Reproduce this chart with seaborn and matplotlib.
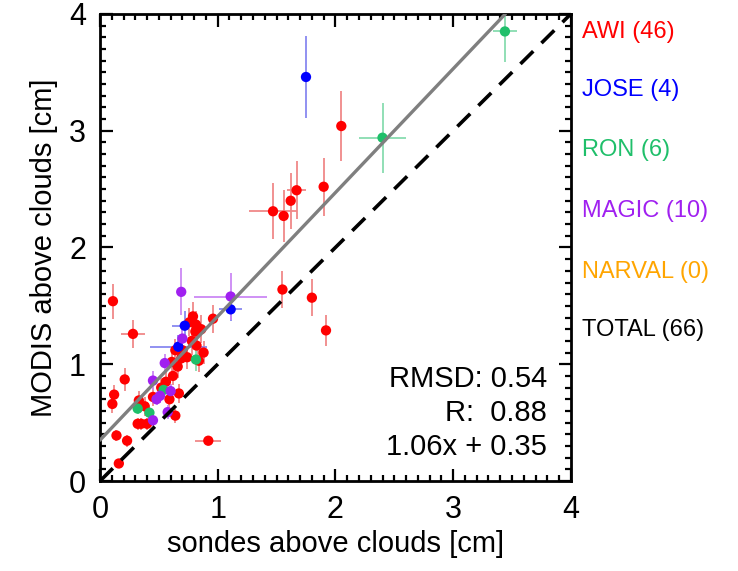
import numpy as np
import pandas as pd
import matplotlib
matplotlib.use('Agg')
import matplotlib.pyplot as plt
from matplotlib.ticker import MultipleLocator
import seaborn as sns

# ── Data (cm) ─────────────────────────────────────────────────────────────────
awi_x = [2.05, 1.47, 1.56, 1.62, 1.67, 1.90, 1.55, 1.80, 1.92, 0.96,
         0.76, 0.81, 0.815, 0.82, 0.84, 0.64, 0.69, 0.74, 0.61, 0.11,
         0.28, 0.21, 0.12, 0.56, 0.67, 0.45, 0.59, 0.105, 0.33, 0.38,
         0.64, 0.32, 0.35, 0.40, 0.14, 0.23, 0.16, 0.92, 0.79, 0.86,
         0.66, 0.78, 0.70, 0.52, 0.88, 0.62]
awi_y = [3.04, 2.31, 2.27, 2.40, 2.49, 2.52, 1.64, 1.57, 1.29, 1.39,
         1.36, 1.28, 1.34, 1.16, 1.03, 1.12, 1.05, 1.06, 1.02, 1.54,
         1.26, 0.87, 0.74, 0.85, 0.75, 0.72, 0.70, 0.66, 0.69, 0.64,
         0.56, 0.49, 0.49, 0.49, 0.39, 0.345, 0.15, 0.345, 1.41, 1.30,
         0.98, 1.20, 1.12, 0.80, 1.10, 0.90]
awi_xerr = [0.03, 0.20, 0.03, 0.03, 0.08, 0.03, 0.03, 0.03, 0.03, 0.03,
            0.03, 0.03, 0.03, 0.03, 0.03, 0.03, 0.03, 0.03, 0.03, 0.03,
            0.10, 0.03, 0.03, 0.03, 0.03, 0.03, 0.03, 0.03, 0.03, 0.03,
            0.03, 0.03, 0.03, 0.03, 0.03, 0.03, 0.03, 0.11, 0.03, 0.03,
            0.03, 0.03, 0.03, 0.03, 0.03, 0.03]
awi_yerr = [0.30, 0.24, 0.22, 0.24, 0.25, 0.25, 0.16, 0.16, 0.13, 0.12,
            0.12, 0.12, 0.12, 0.12, 0.10, 0.10, 0.10, 0.10, 0.10, 0.15,
            0.12, 0.10, 0.08, 0.08, 0.08, 0.08, 0.08, 0.08, 0.08, 0.08,
            0.06, 0.05, 0.05, 0.05, 0.05, 0.05, 0.04, 0.03, 0.12, 0.12,
            0.10, 0.12, 0.10, 0.08, 0.10, 0.08]

jose_x = [1.75, 1.11, 0.72, 0.665]
jose_y = [3.46, 1.47, 1.33, 1.15]
jose_xerr = [0.03, 0.10, 0.11, 0.24]
jose_yerr = [0.35, 0.10, 0.13, 0.10]

ron_x = [3.44, 2.40, 0.815, 0.54, 0.32, 0.42]
ron_y = [3.85, 2.94, 1.04, 0.78, 0.62, 0.585]
ron_xerr = [0.10, 0.20, 0.03, 0.03, 0.03, 0.03]
ron_yerr = [0.26, 0.30, 0.10, 0.06, 0.05, 0.05]

magic_x = [0.69, 1.11, 0.70, 0.55, 0.45, 0.60, 0.51, 0.575, 0.45, 0.48]
magic_y = [1.62, 1.58, 1.22, 1.01, 0.86, 0.77, 0.73, 0.59, 0.52, 0.70]
magic_xerr = [0.03, 0.31, 0.03, 0.03, 0.03, 0.03, 0.03, 0.03, 0.03, 0.03]
magic_yerr = [0.20, 0.20, 0.10, 0.08, 0.08, 0.06, 0.06, 0.06, 0.05, 0.05]

campaigns = ["AWI", "JOSE", "RON", "MAGIC", "NARVAL"]
counts = [46, 4, 6, 10, 0]
colors = {"AWI": "#ff0000", "JOSE": "#0000ff", "RON": "#1fbf6a",
          "MAGIC": "#a020f0", "NARVAL": "#ffa500"}
err_colors = {"AWI": "#f08888", "JOSE": "#8888f0", "RON": "#88dcb0",
              "MAGIC": "#cc88f4", "NARVAL": "#ffd088"}

slope, intercept = 1.06, 0.35
stats_lines = ["RMSD: 0.54", "R:  0.88", "1.06x + 0.35"]

series = {
    "AWI": (awi_x, awi_y, awi_xerr, awi_yerr),
    "JOSE": (jose_x, jose_y, jose_xerr, jose_yerr),
    "RON": (ron_x, ron_y, ron_xerr, ron_yerr),
    "MAGIC": (magic_x, magic_y, magic_xerr, magic_yerr),
}
df = pd.concat([
    pd.DataFrame({"sonde": v[0], "modis": v[1], "xerr": v[2], "yerr": v[3], "campaign": k})
    for k, v in series.items()
], ignore_index=True)

# ── Style ─────────────────────────────────────────────────────────────────────
sns.set_style("ticks")
plt.rcParams['font.family'] = ['Liberation Sans', 'DejaVu Sans']
plt.rcParams['text.color'] = 'black'
plt.rcParams['axes.labelcolor'] = 'black'
plt.rcParams['xtick.color'] = 'black'
plt.rcParams['ytick.color'] = 'black'

fig = plt.figure(figsize=(7.38, 5.71), dpi=100)
ax = fig.add_axes([0.1355, 0.1576, 0.638, 0.818])

# error bars first, then the markers on top
for name, grp in df.groupby("campaign", sort=False):
    ax.errorbar(grp["sonde"], grp["modis"], xerr=grp["xerr"], yerr=grp["yerr"],
                fmt="none", ecolor=err_colors[name], elinewidth=1.3, capsize=0, zorder=2)

sns.scatterplot(data=df, x="sonde", y="modis", hue="campaign", palette=colors,
                s=55, edgecolor="none", legend=False, ax=ax, zorder=3)

# 1:1 line and regression line
ax.plot([0, 4], [0, 4], color="black", lw=2.6, ls=(0, (5, 3.2)), zorder=4)
x_end = (4 - intercept) / slope
ax.plot([0, x_end], [intercept, slope * x_end + intercept], color="#7f7f7f", lw=2.4, zorder=4)

ax.set_xlim(0, 4)
ax.set_ylim(0, 4)
ax.xaxis.set_major_locator(MultipleLocator(1))
ax.yaxis.set_major_locator(MultipleLocator(1))
ax.xaxis.set_minor_locator(MultipleLocator(0.1))
ax.yaxis.set_minor_locator(MultipleLocator(0.1))
ax.tick_params(which="both", direction="in", top=True, right=True, width=1.6, colors="black")
ax.tick_params(which="major", length=9, labelsize=22, pad=10)
ax.tick_params(which="minor", length=4.5)
for sp in ax.spines.values():
    sp.set_linewidth(2)
    sp.set_color("black")

ax.set_xlabel("sondes above clouds [cm]", fontsize=21, labelpad=4)
ax.set_ylabel("MODIS above clouds [cm]", fontsize=21, labelpad=8)

for i, line in enumerate(stats_lines):
    ax.text(3.80, 0.87 - i * 0.29, line, ha="right", va="center", fontsize=21)

# campaign legend as coloured text
legend_y = [0.944, 0.842, 0.737, 0.631, 0.524, 0.422]
for i, (name, n) in enumerate(zip(campaigns, counts)):
    fig.text(0.788, legend_y[i], f"{name} ({n})", color=colors[name], fontsize=17, va="center")
fig.text(0.788, legend_y[-1], f"TOTAL ({sum(counts)})", color="black", fontsize=17, va="center")

fig.savefig("out.png", dpi=100)
